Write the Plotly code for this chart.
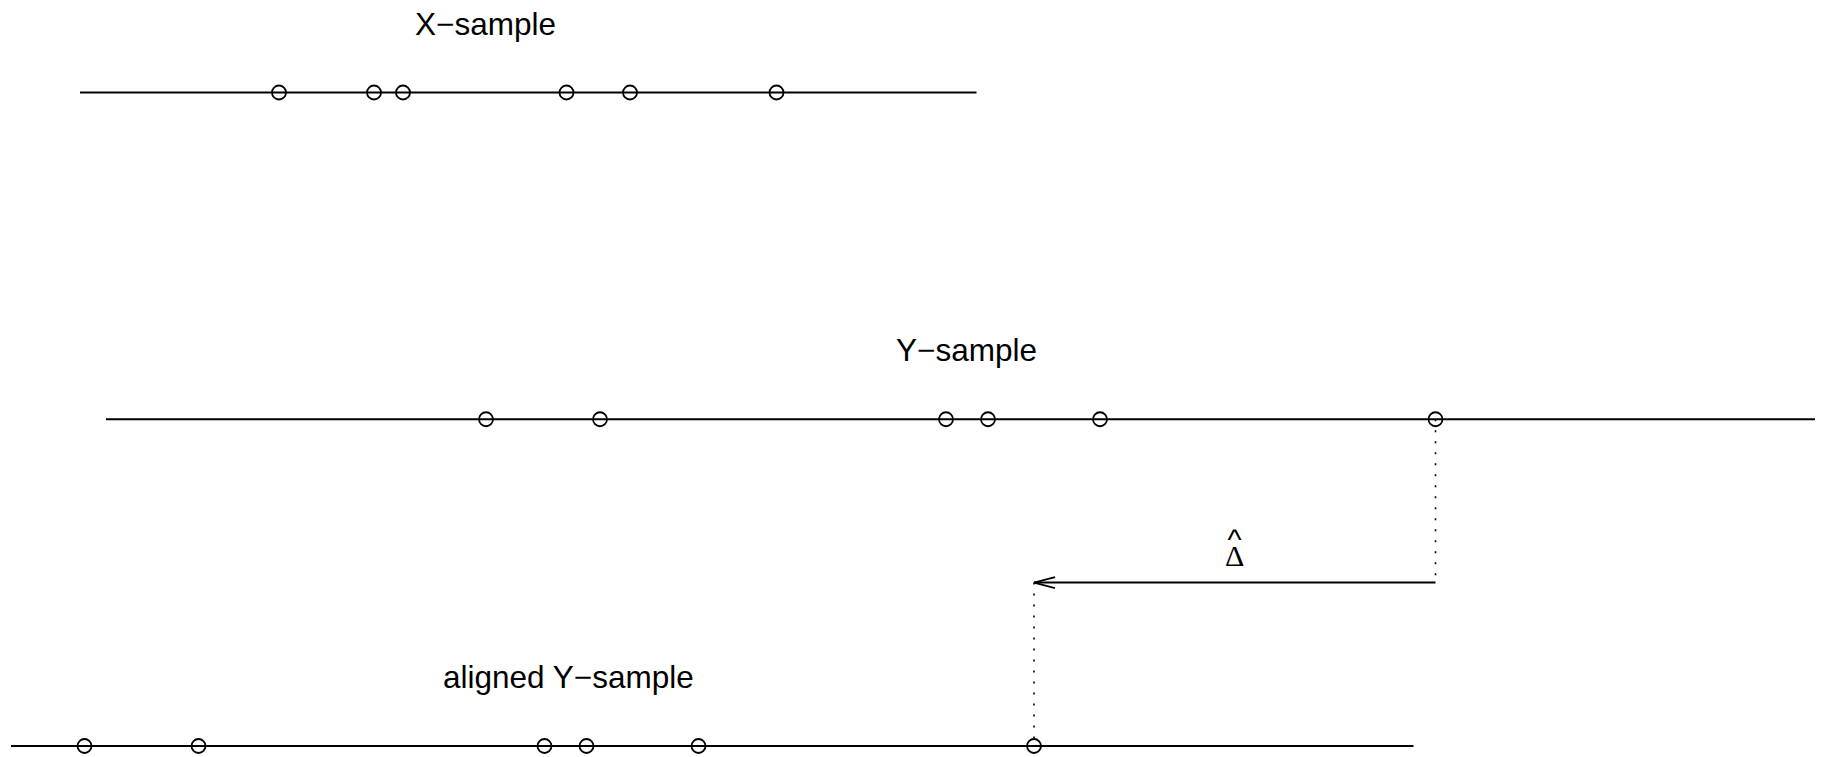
import plotly.graph_objects as go

# ---- data (units: arbitrary position scale) ----
x_sample = [2.79, 3.74, 4.03, 5.665, 6.30, 7.765]
y_sample = [4.86, 6.00, 9.46, 9.88, 11.00, 14.355]
delta_hat = 4.015
aligned_y = [round(v - delta_hat, 3) for v in y_sample]

x_line = [0.80, 9.765]
y_line = [1.06, 18.15]
aligned_line = [0.11, y_line[1] - delta_hat]

row_labels = ["X\u2212sample", "Y\u2212sample", "aligned Y\u2212sample"]
row_level = [3, 2, 1]
label_x = [4.855, 9.667, 5.68]
arrow_level = 1.5

LW = 2
INK = "black"
fig = go.Figure()

def baseline(xs, level):
    fig.add_trace(go.Scatter(x=xs, y=[level, level], mode="lines",
                             line=dict(color=INK, width=LW), hoverinfo="skip",
                             showlegend=False, cliponaxis=False))

def points(xs, level):
    fig.add_trace(go.Scatter(x=xs, y=[level] * len(xs), mode="markers",
                             marker=dict(symbol="circle-open", size=14, color=INK,
                                         line=dict(color=INK, width=1.8)),
                             hoverinfo="skip", showlegend=False, cliponaxis=False))

# dotted connectors
DOT = "2px,9px"
fig.add_trace(go.Scatter(x=[y_sample[-1], y_sample[-1]], y=[row_level[1], arrow_level],
                         mode="lines", line=dict(color=INK, width=1.6, dash=DOT),
                         hoverinfo="skip", showlegend=False))
fig.add_trace(go.Scatter(x=[aligned_y[-1], aligned_y[-1]], y=[arrow_level, row_level[2]],
                         mode="lines", line=dict(color=INK, width=1.6, dash=DOT),
                         hoverinfo="skip", showlegend=False))

baseline(x_line, row_level[0])
baseline(y_line, row_level[1])
baseline(aligned_line, row_level[2])
points(x_sample, row_level[0])
points(y_sample, row_level[1])
points(aligned_y, row_level[2])

# shift arrow
fig.add_trace(go.Scatter(x=[y_sample[-1], aligned_y[-1]], y=[arrow_level, arrow_level],
                         mode="lines", line=dict(color=INK, width=LW),
                         hoverinfo="skip", showlegend=False))
for s in (1, -1):
    fig.add_shape(type="line", xref="x", yref="y", xsizemode="pixel", ysizemode="pixel",
                  xanchor=aligned_y[-1], yanchor=arrow_level,
                  x0=0, y0=0, x1=21, y1=5.5 * s, line=dict(color=INK, width=LW))

# labels
LABEL_OFF = 0.211
for txt, lx, lv in zip(row_labels, label_x, row_level):
    fig.add_annotation(x=lx, y=lv + LABEL_OFF, text=txt, showarrow=False,
                       xanchor="center", yanchor="middle",
                       font=dict(family="Liberation Sans", size=31.5, color=INK))

mid = (y_sample[-1] + aligned_y[-1]) / 2
delta_text = ('<span style="font-family:Liberation Sans;font-size:30px">^</span><br>'
              '<span style="font-family:Liberation Serif;font-size:30px">\u0394</span>')
fig.add_annotation(x=mid, y=arrow_level + 0.109, text=delta_text, showarrow=False,
                   xanchor="center", yanchor="middle", align="center",
                   font=dict(family="Liberation Serif", size=12, color=INK))

fig.update_layout(width=1822, height=757, margin=dict(l=0, r=0, t=0, b=0),
                  paper_bgcolor="white", plot_bgcolor="white", showlegend=False,
                  xaxis=dict(range=[0, 18.22], visible=False, fixedrange=True),
                  yaxis=dict(range=[0.9663, 3.2831], visible=False, fixedrange=True))

fig.write_html("out.html", config={"displayModeBar": False},
               post_script="document.body.style.margin='0';")
